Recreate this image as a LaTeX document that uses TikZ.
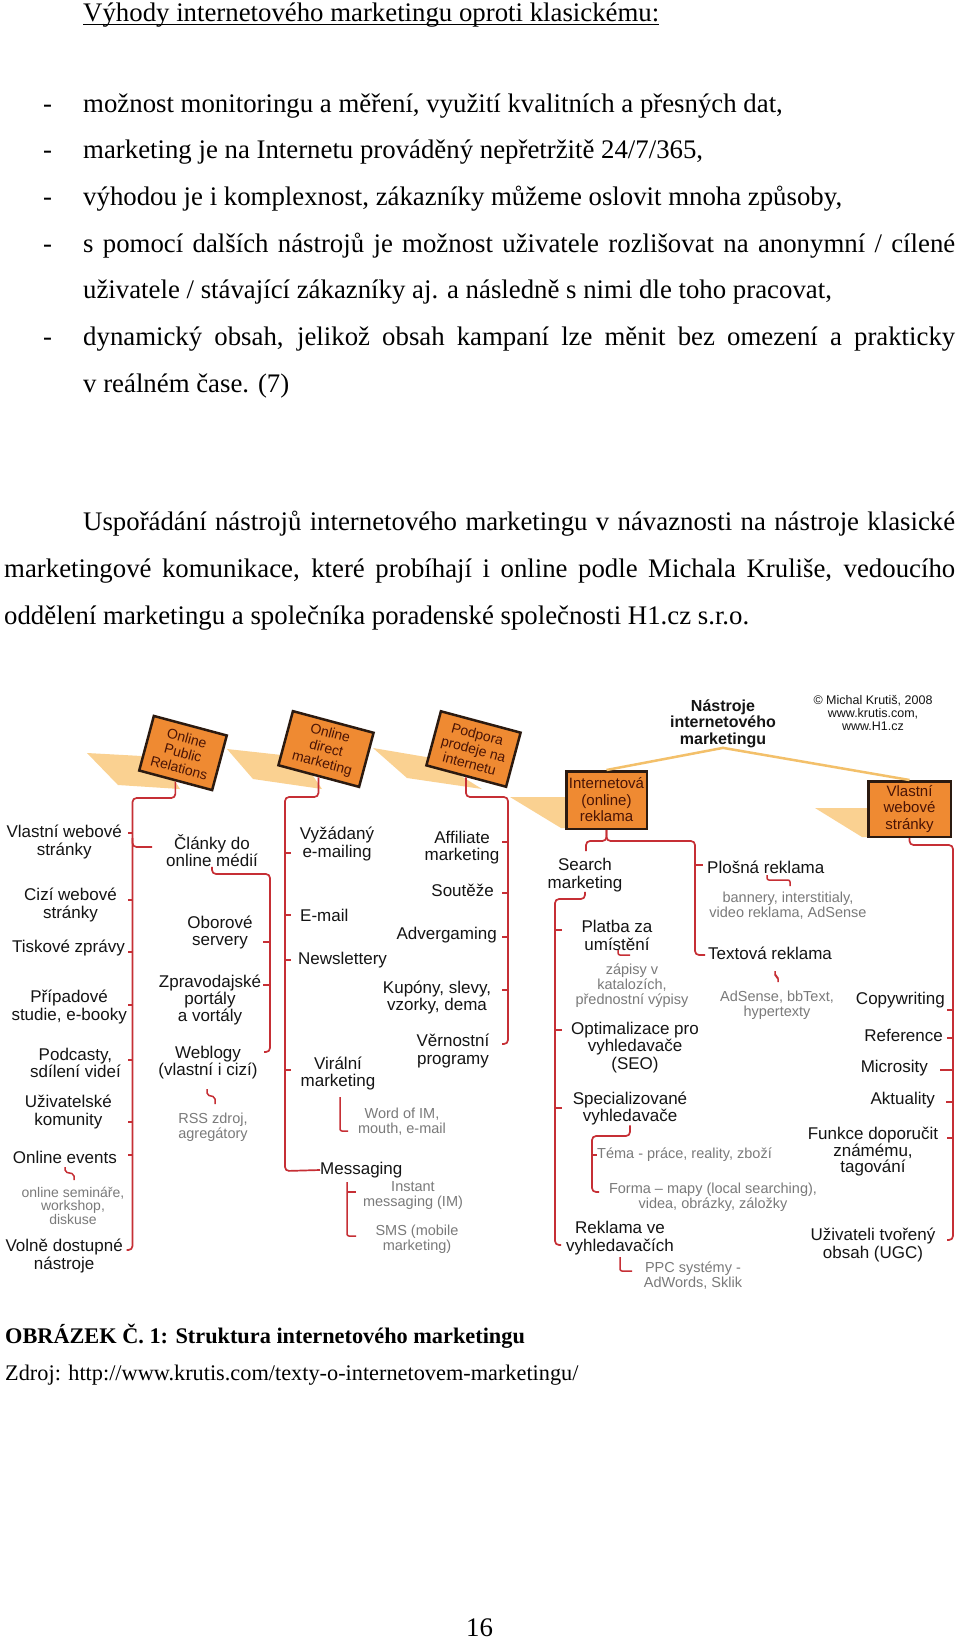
\documentclass[tikz,border=0pt]{standalone}
\usepackage{fontspec}
\setmainfont{Liberation Serif}
\newfontfamily\arial{Liberation Sans}
\usetikzlibrary{calc}
\definecolor{treered}{HTML}{C62F35}
\definecolor{boxfill}{HTML}{EF8A32}
\definecolor{boxline}{HTML}{2B1A10}
\definecolor{boxtext}{HTML}{4A1405}
\definecolor{bandfill}{HTML}{FAD191}
\definecolor{bandline}{HTML}{F3C06A}
\definecolor{txtgray}{HTML}{7A7A7A}
\definecolor{lblk}{HTML}{141414}
\begin{document}
\begin{tikzpicture}[x=1pt,y=-1pt,
 body/.style={anchor=base west,inner sep=0pt,font=\fontsize{26.8}{30}\selectfont},
 capt/.style={anchor=base west,inner sep=0pt,font=\fontsize{22.3}{26}\selectfont},
 lab/.style={inner sep=0pt,align=center,text=lblk,font=\arial\fontsize{17}{17.3}\selectfont},
 gry/.style={inner sep=0pt,align=center,text=txtgray,font=\arial\fontsize{14.5}{14.8}\selectfont},
 tbox/.style={draw=boxline,fill=boxfill,line width=2.5pt,text=boxtext,align=center,inner sep=0pt,font=\arial\fontsize{15}{16.5}\selectfont},
 rbox/.style={tbox,rotate=-15,font=\arial\fontsize{14}{15.5}\selectfont},
 rl/.style={draw=treered,line width=1.7pt,rounded corners=4pt},
 hk/.style={draw=treered,line width=1.5pt,rounded corners=2pt},
 band/.style={fill=bandfill,draw=none},
 tline/.style={draw=bandline,line width=2.5pt}]
\fill[white] (0,0) rectangle (960,1639);
\useasboundingbox (0,0) rectangle (960,1639);

% ---------- body text ----------
\node[body] (hd) at (83,21) {Výhody internetového marketingu oproti klasickému:};
\draw[line width=1.2pt] ($(hd.base west)+(0,3.5)$) -- ($(hd.base east)+(0,3.5)$);
\node[body] (d1) at (43,112) {-};
\node[body] (d2) at (43,158.7) {-};
\node[body] (d3) at (43,205.4) {-};
\node[body] (d4) at (43,252.1) {-};
\node[body] (d6) at (43,345.5) {-};
\node[body] (l1) at (83,112) {možnost monitoringu a měření, využití kvalitních a přesných dat,};
\node[body] (l2) at (83,158.7) {marketing je na Internetu prováděný nepřetržitě 24/7/365,};
\node[body] (l3) at (83,205.4) {výhodou je i komplexnost, zákazníky můžeme oslovit mnoha způsoby,};
\node[body] (l4) at (83,252.1) {\makebox[872pt][s]{s pomocí dalších nástrojů je možnost uživatele rozlišovat na anonymní / cílené}};
\node[body] (l5) at (83,298.8) {uživatele / stávající zákazníky aj. a následně s nimi dle toho pracovat,};
\node[body] (l6) at (83,345.5) {\makebox[872pt][s]{dynamický obsah, jelikož obsah kampaní lze měnit bez omezení a prakticky}};
\node[body] (l7) at (83,392.2) {v reálném čase. (7)};
\node[body] (p1) at (83,530) {\makebox[872pt][s]{Uspořádání nástrojů internetového marketingu v návaznosti na nástroje klasické}};
\node[body] (p2) at (4,577) {\makebox[951pt][s]{marketingové komunikace, které probíhají i online podle Michala Kruliše, vedoucího}};
\node[body] (p3) at (4,624) {oddělení marketingu a společníka poradenské společnosti H1.cz s.r.o.};
\node[capt,font=\fontsize{22.3}{26}\selectfont\bfseries] (cap) at (5,1343) {OBRÁZEK Č. 1: Struktura internetového marketingu};
\node[capt] (src) at (5,1380) {Zdroj: http://www.krutis.com/texty-o-internetovem-marketingu/};
\node[body] (pg) at (466,1636) {16};

% ---------- bands ----------
\fill[band] (87,753) -- (160,757) -- (180,789) -- (118,785) -- cycle;
\fill[band] (227,749) -- (300,757) -- (322,789) -- (253,779) -- cycle;
\fill[band] (373,748) -- (432,758) -- (482,789) -- (407,778) -- cycle;
\fill[band] (510,797) -- (567,797) -- (567,828) -- (561,828) -- cycle;
\fill[band] (815,808) -- (868,808) -- (868,837) -- (862,837) -- cycle;

% ---------- title ----------
\node[inner sep=0pt,align=center,font=\arial\bfseries\fontsize{16}{16.6}\selectfont,text=lblk] (ttl) at (723,723.5) {Nástroje\\internetového\\marketingu};
\node[inner sep=0pt,align=center,font=\arial\fontsize{12.5}{13}\selectfont,text=lblk] (cr) at (873,713) {© Michal Krutiš, 2008\\www.krutis.com,\\www.H1.cz};

% ---------- boxes ----------
\node[rbox,minimum width=75.5pt,minimum height=56.5pt] (b1) at (183,753) {Online\\Public\\Relations};
\node[rbox,minimum width=83.5pt,minimum height=56pt] (b2) at (326,749) {Online\\direct\\marketing};
\node[rbox,minimum width=82.5pt,minimum height=56pt] (b3) at (473.5,749) {Podpora\\prodeje na\\internetu};
\node[tbox,minimum width=80.5pt,minimum height=57.5pt] (b4) at (606.5,800) {Internetová\\(online)\\reklama};
\node[tbox,minimum width=82.5pt,minimum height=55.5pt] (b5) at (909.5,809) {Vlastní\\webové\\stránky};
\draw[tline] (ttl.south) -- (b4.north);
\draw[tline] (ttl.south) -- (b5.north);

% ---------- column 1 ----------
\node[lab,anchor=east] (vw) at (122,842) {Vlastní webové\\stránky};
\node[lab,anchor=east] (cw) at (117,905) {Cizí webové\\stránky};
\node[lab,anchor=east] (tz) at (125,948) {Tiskové zprávy};
\node[lab,anchor=east] (ps) at (127,1007) {Případové\\studie, e-booky};
\node[lab,anchor=east] (pc) at (121,1063) {Podcasty,\\sdílení videí};
\node[lab,anchor=east] (uk) at (112,1112) {Uživatelské\\komunity};
\node[lab,anchor=east] (oe) at (117,1157) {Online events};
\node[gry,font=\arial\fontsize{14}{11.5}\selectfont] (os) at (73,1206) {online semináře,\\workshop,\\diskuse};
\node[lab,anchor=east] (vd) at (123,1256) {Volně dostupné\\nástroje};
\node[lab] (cl) at (212,850.5) {Články do\\online médií};
\node[lab] (ob) at (220,932.5) {Oborové\\servery};
\node[lab] (zp) at (210,1000) {Zpravodajské\\portály\\a vortály};
\node[lab] (wb) at (208,1062.5) {Weblogy\\(vlastní i cizí)};
\node[gry] (rss) at (213,1127.5) {RSS zdroj,\\agregátory};

\coordinate (s1a) at (132.5,798);
\coordinate (s1b) at (132.5,1250);
\draw[rl] (b1.south) -- (b1.south |- s1a) -- (s1a) -- (s1b) -- ++(-6,0);
\foreach \yy in {833,900,952,1005,1060,1122,1155} \draw[rl] (132.5,\yy) -- ++(-5,0);
\draw[rl] (132.5,838) -- (132.5,847) -- (152,847);
\coordinate (s1c) at (270,874);
\draw[rl] (cl.south) -- (cl.south |- s1c) -- (s1c) -- (270,1052) -- ++(-6,0);
\foreach \yy in {942,985} \draw[rl] (270,\yy) -- ++(-7,0);
\draw[hk] (65,1167) -- (65,1172) -- (74,1174) -- (74,1180);
\draw[hk] (207,1089) -- (207,1095) -- (215,1097) -- (215,1104);

% ---------- column 2 ----------
\node[lab] (vy) at (337,844) {Vyžádaný\\e-mailing};
\node[lab,anchor=west] (em) at (300,915) {E-mail};
\node[lab,anchor=west] (nl) at (298,960) {Newslettery};
\node[lab] (vm) at (338,1073.5) {Virální\\marketing};
\node[gry] (wm) at (402,1121.5) {Word of IM,\\mouth, e-mail};
\node[lab,anchor=west] (ms) at (320,1170) {Messaging};
\node[gry] (im) at (413,1195.5) {Instant\\messaging (IM)};
\node[gry] (sms) at (417,1239.5) {SMS (mobile\\marketing)};
\coordinate (s2a) at (285,797);
\draw[rl] (b2.south) -- (b2.south |- s2a) -- (s2a) -- (285,1171) -- (ms.west);
\foreach \yy in {853,915,960,1070} \draw[rl] (285,\yy) -- ++(6,0);
\draw[hk] (340,1097) -- (340,1131) -- (348,1131);
\draw[hk] (347,1182) -- (347,1236) -- (356,1236);
\draw[hk] (347,1192) -- ++(9,0);

% ---------- column 3 ----------
\node[lab] (af) at (462,847.5) {Affiliate\\marketing};
\node[lab,anchor=east] (so) at (494,890) {Soutěže};
\node[lab,anchor=east] (ad) at (497,935) {Advergaming};
\node[lab] (ku) at (437,997.5) {Kupóny, slevy,\\vzorky, dema};
\node[lab] (ve) at (453,1051) {Věrnostní\\programy};
\coordinate (s3a) at (508,797);
\draw[rl] (b3.south) -- (b3.south |- s3a) -- (s3a) -- (508,1044) -- ++(-6,0);
\foreach \yy in {842,893,937,990} \draw[rl] (508,\yy) -- ++(-6,0);

% ---------- column 4 ----------
\node[lab] (sm) at (585,875) {Search\\marketing};
\node[lab,anchor=west] (pl) at (707,867) {Plošná reklama};
\node[gry] (ban) at (788,905.5) {bannery, interstitialy,\\video reklama, AdSense};
\node[lab,anchor=west] (tx) at (708,953) {Textová reklama};
\node[gry] (ads) at (777,1005) {AdSense, bbText,\\hypertexty};
\node[lab] (pz) at (617,935.5) {Platba za\\umístění};
\node[gry] (zap) at (632,985.5) {zápisy v\\katalozích,\\přednostní výpisy};
\node[lab] (seo) at (635,1047.5) {Optimalizace pro\\vyhledavače\\(SEO)};
\node[lab] (spv) at (630,1108.5) {Specializované\\vyhledavače};
\node[gry,anchor=west] (tema) at (597,1155) {Téma - práce, reality, zboží};
\node[gry] (forma) at (713,1197.5) {Forma – mapy (local searching),\\videa, obrázky, záložky};
\node[lab] (rv) at (620,1238) {Reklama ve\\vyhledavačích};
\node[gry] (ppc) at (693,1275.5) {PPC systémy -\\AdWords, Sklik};
\coordinate (s4j) at (606.5,841);
\draw[rl] (b4.south) -- (s4j) -- (586,841) -- (586,851);
\draw[rl] (b4.south) -- (s4j) -- (695,841) -- (695,955) -- (705,955);
\draw[rl] (695,865) -- ++(8,0);
\draw[hk] (767,875) -- (767,880) -- (790,880) -- (790,886);
\draw[hk] (775,971) -- (775,976) -- (778,977) -- (778,982);
\coordinate (s4s) at (555,899);
\draw[rl] (sm.south) -- (sm.south |- s4s) -- (s4s) -- (555,1245) -- ++(6,0);
\foreach \yy in {930,1030,1108} \draw[rl] (555,\yy) -- ++(7,0);
\draw[hk] (618,950) -- (618,955) -- (630,955);
\coordinate (s4t) at (592,1136);
\draw[rl] (spv.south) -- (spv.south |- s4t) -- (s4t) -- (592,1192) -- ++(7,0);
\draw[rl] (592,1155) -- (tema.west);
\draw[hk] (620,1257) -- (620,1271) -- (632,1271);

% ---------- column 5 ----------
\node[lab,anchor=east] (cp) at (945,1000) {Copywriting};
\node[lab,anchor=east] (rf) at (943,1035) {Reference};
\node[lab,anchor=east] (mc) at (928,1068) {Microsity};
\node[lab,anchor=east] (ak) at (935,1100) {Aktuality};
\node[lab,font=\arial\fontsize{17}{16}\selectfont] (fd) at (873,1152) {Funkce doporučit\\známému,\\tagování};
\node[lab] (ugc) at (873,1245) {Uživateli tvořený\\obsah (UGC)};
\coordinate (s5a) at (953,845);
\draw[rl] (b5.south) -- (b5.south |- s5a) -- (s5a) -- (953,1240) -- ++(-6,0);
\foreach \yy/\ll in {1010/6,1038/6,1070/13,1102/7,1138/6} \draw[rl] (953,\yy) -- ++(-\ll,0);
\end{tikzpicture}
\end{document}
